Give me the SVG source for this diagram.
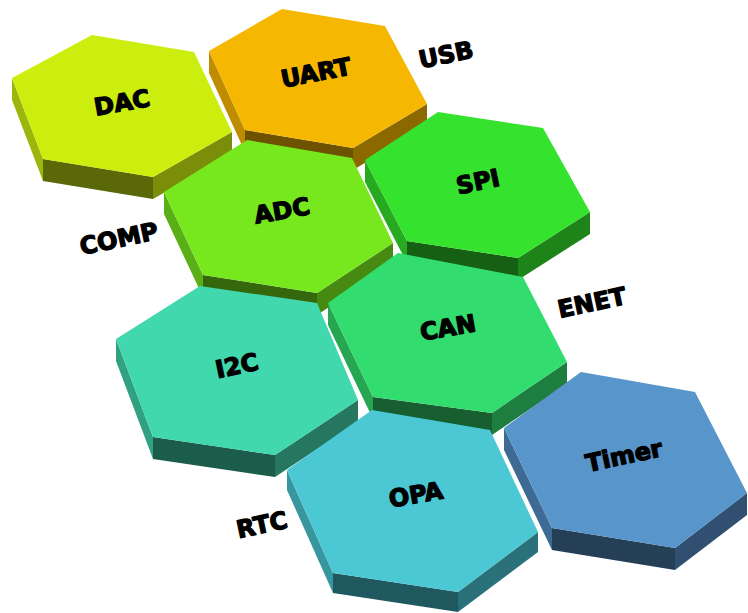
<svg xmlns="http://www.w3.org/2000/svg" width="748" height="613" viewBox="0 0 748 613">
<style>
text{font-family:"DejaVu Sans","Liberation Sans",sans-serif;font-weight:bold;font-size:24px;fill:#000;text-anchor:middle;dominant-baseline:central;stroke:#000;stroke-width:1.3;stroke-linejoin:round}
</style>
<rect width="748" height="613" fill="#fff"/>
<g id="UART">
<polygon points="209,51 245,130 245,152 209,73" fill="#BF8C00"/>
<polygon points="245,130 353,148 353,170 245,152" fill="#6E5200"/>
<polygon points="353,148 427,104 427,126 353,170" fill="#8C6800"/>
<polygon points="209,51 282,9 385,26 427,104 353,148 245,130" fill="#F5B700"/>
<text transform="translate(316,73) rotate(-11)">UART</text>
</g>
<g id="DAC">
<polygon points="12,78 43,159 43,181 12,100" fill="#9DB60B"/>
<polygon points="43,159 153,177 153,199 43,181" fill="#5A6807"/>
<polygon points="153,177 232,132 232,154 153,199" fill="#7A8E09"/>
<polygon points="12,78 92,35 194,52 232,132 153,177 43,159" fill="#CCEE0E"/>
<text transform="translate(122,103) rotate(-10)">DAC</text>
</g>
<g id="SPI">
<polygon points="365,160 407,241 407,263 365,182" fill="#27A922"/>
<polygon points="407,241 518,258 518,280 407,263" fill="#166013"/>
<polygon points="518,258 590,212 590,234 518,280" fill="#1E8419"/>
<polygon points="365,160 438,112 543,128 590,212 518,258 407,241" fill="#35E22E"/>
<text transform="translate(478,182) rotate(-12)">SPI</text>
</g>
<g id="ADC">
<polygon points="164,192 203,275 203,297 164,214" fill="#5AAE16"/>
<polygon points="203,275 317,293 317,315 203,297" fill="#35680D"/>
<polygon points="317,293 393,243 393,265 317,315" fill="#468A12"/>
<polygon points="164,192 247,140 352,158 393,243 317,293 203,275" fill="#78E81E"/>
<text transform="translate(282,211) rotate(-10)">ADC</text>
</g>
<g id="CAN">
<polygon points="328,303 373,397 373,419 328,325" fill="#26A552"/>
<polygon points="373,397 492,413 492,435 373,419" fill="#175E30"/>
<polygon points="492,413 567,362 567,384 492,435" fill="#1E7E40"/>
<polygon points="328,303 398,253 523,277 567,362 492,413 373,397" fill="#33DC6E"/>
<text transform="translate(448,328) rotate(-10)">CAN</text>
</g>
<g id="I2C">
<polygon points="116,339 153,437 153,459 116,361" fill="#30A282"/>
<polygon points="153,437 275,455 275,477 153,459" fill="#1C5C4A"/>
<polygon points="275,455 358,400 358,422 275,477" fill="#25785F"/>
<polygon points="116,339 200,286 317,303 358,400 275,455 153,437" fill="#40D8AC"/>
<text transform="translate(237,366) rotate(-12)">I2C</text>
</g>
<g id="Timer">
<polygon points="504,428 552,528 552,550 504,450" fill="#3E6A93"/>
<polygon points="552,528 675,548 675,570 552,550" fill="#253F57"/>
<polygon points="675,548 747,493 747,515 675,570" fill="#314F70"/>
<polygon points="504,428 581,372 695,392 747,493 675,548 552,528" fill="#5795CB"/>
<text transform="translate(624,456) rotate(-12)">Timer</text>
</g>
<g id="OPA">
<polygon points="287,470 333,573 333,593 287,490" fill="#38969F"/>
<polygon points="333,573 458,592 458,612 333,593" fill="#205860"/>
<polygon points="458,592 538,532 538,552 458,612" fill="#2B717A"/>
<polygon points="287,470 372,410 490,430 538,532 458,592 333,573" fill="#4BC8D4"/>
<text transform="translate(416,495) rotate(-10)">OPA</text>
</g>
<g id="labels">
<text transform="translate(446,55) rotate(-12)">USB</text>
<text transform="translate(119,239) rotate(-12)">COMP</text>
<text transform="translate(592,303) rotate(-12)">ENET</text>
<text transform="translate(262,525) rotate(-12)">RTC</text>
</g>
</svg>
